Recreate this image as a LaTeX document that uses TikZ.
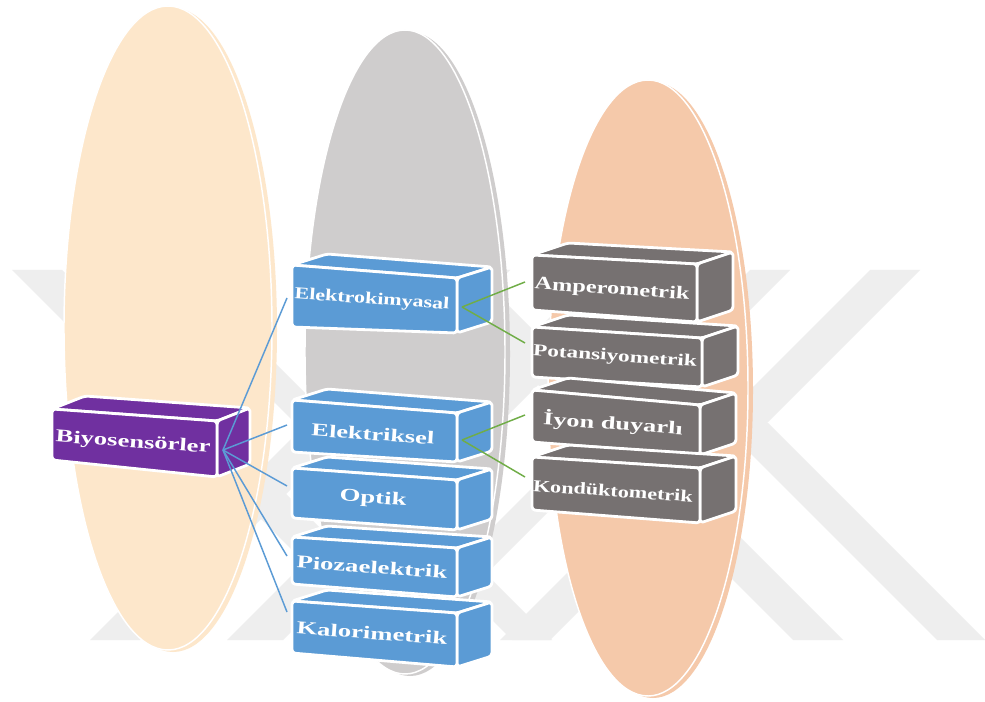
\documentclass[tikz,border=0pt]{standalone}
\usepackage{fontspec}
\setmainfont{Liberation Serif}
\usetikzlibrary{calc}
\definecolor{ellA}{HTML}{FDE7CB}
\definecolor{ellB}{HTML}{CFCDCD}
\definecolor{ellC}{HTML}{F5C9AA}
\definecolor{wmark}{HTML}{EEEEEE}
\definecolor{purp}{HTML}{7030A0}
\definecolor{blu}{HTML}{5B9BD5}
\definecolor{gry}{HTML}{767171}
\definecolor{grn}{HTML}{70AD47}
\newdimen\pxu \pxu=0.75pt
\tikzset{
  face/.style={draw=white, line width=2.1pt, rounded corners=2.5pt, line join=round},
  lbl/.style={text=white, inner sep=0pt, rotate=-4},
  bluelink/.style={draw=blu, line width=1.1pt},
  greenlink/.style={draw=grn, line width=1.1pt},
  band/.style={fill=wmark}
}
\newcommand\cuboid[7]{%
  \coordinate (#1-tl) at #2; \coordinate (#1-tr) at #3;
  \coordinate (#1-br) at #4; \coordinate (#1-bl) at #5;
  \coordinate (#1-tlb) at ($(#1-tl)+#6$);
  \coordinate (#1-trb) at ($(#1-tr)+#6$);
  \coordinate (#1-brb) at ($(#1-br)+#6$);
  \filldraw[face,fill=#7] (#1-tl) -- (#1-tlb) -- (#1-trb) -- (#1-tr) -- cycle;
  \filldraw[face,fill=#7] (#1-tr) -- (#1-trb) -- (#1-brb) -- (#1-br) -- cycle;
  \filldraw[face,fill=#7] (#1-tl) -- (#1-tr) -- (#1-br) -- (#1-bl) -- cycle;
}
\newcommand\boxtext[3]{\resizebox{#1\pxu}{\height}{\fontsize{#2}{#2}\selectfont\bfseries #3}}
\begin{document}
\begin{tikzpicture}[x=0.75pt,y=-0.75pt]
\useasboundingbox (0,0) rectangle (985,702);
\fill[white] (0,0) rectangle (985,702);
% watermark
\begin{scope}
\clip (0,0) rectangle (985,702);
\fill[band] (12,270) -- (62,270) -- (432,640) -- (382,640) -- cycle;
\fill[band] (870,270) -- (920,270) -- (550,640) -- (500,640) -- cycle;
\fill[band] (720,423) -- (768,423) -- (985,640) -- (937,640) -- cycle;
\fill[band] (460,270) -- (510,270) -- (140,640) -- (90,640) -- cycle;
\fill[band] (423,270) -- (473,270) -- (843,640) -- (793,640) -- cycle;
\fill[band] (750,270) -- (790,270) -- (420,640) -- (380,640) -- cycle;
\fill[band] (142,270) -- (182,270) -- (552,640) -- (512,640) -- cycle;
\fill[band] (597,270) -- (653,270) -- (283,640) -- (227,640) -- cycle;
\end{scope}
% ellipses
\fill[ellA] (173,330) ellipse [x radius=104, y radius=322];
\filldraw[fill=ellA, draw=white, line width=1.1pt] (168,328) ellipse [x radius=104, y radius=322];
\fill[ellB] (410,354) ellipse [x radius=100, y radius=322];
\filldraw[fill=ellB, draw=white, line width=1.1pt] (405,352) ellipse [x radius=100, y radius=322];
\fill[ellC] (653,390) ellipse [x radius=100, y radius=308];
\filldraw[fill=ellC, draw=white, line width=1.1pt] (648,388) ellipse [x radius=100, y radius=308];
% boxes
\cuboid{bio}{(52,409)}{(217,421)}{(217,477)}{(52,460)}{(33,-13)}{purp}
\cuboid{ek}{(292,265)}{(457,278)}{(457,333)}{(292,327)}{(35,-11)}{blu}
\cuboid{el}{(292,400)}{(457,413)}{(457,462)}{(292,452)}{(35,-11)}{blu}
\cuboid{op}{(292,468)}{(457,480)}{(457,530)}{(292,518)}{(35,-11)}{blu}
\cuboid{pi}{(292,537)}{(457,548)}{(457,597)}{(292,584)}{(35,-11)}{blu}
\cuboid{ka}{(292,601)}{(457,613)}{(457,667)}{(292,653)}{(35,-11)}{blu}
\cuboid{am}{(532,255)}{(697,264)}{(697,322)}{(532,310)}{(36,-12)}{gry}
\cuboid{po}{(532,327)}{(702,338)}{(702,387)}{(532,377)}{(36,-12)}{gry}
\cuboid{iy}{(532,390)}{(700,405)}{(700,455)}{(532,442)}{(36,-12)}{gry}
\cuboid{ko}{(532,457)}{(700,468)}{(700,523)}{(532,510)}{(36,-12)}{gry}
% labels
\node[lbl] (tbio) at (133,443) {\boxtext{155}{13.5}{Biyosensörler}};
\node[lbl] (tek) at (372,300) {\boxtext{155}{12.5}{Elektrokimyasal}};
\node[lbl] (tel) at (373,434) {\boxtext{123}{13.5}{Elektriksel}};
\node[lbl] (top) at (373,499) {\boxtext{67}{13.5}{Optik}};
\node[lbl] (tpi) at (372,567) {\boxtext{151}{13.5}{Piozaelektrik}};
\node[lbl] (tka) at (372,633) {\boxtext{151}{13.5}{Kalorimetrik}};
\node[lbl] (tam) at (612,290) {\boxtext{155}{13.5}{Amperometrik}};
\node[lbl] (tpo) at (615,357) {\boxtext{164}{12.5}{Potansiyometrik}};
\node[lbl] (tiy) at (613,424) {\boxtext{140}{13.5}{İyon duyarlı}};
\node[lbl] (tko) at (613,491) {\boxtext{160}{12.5}{Kondüktometrik}};
% connector anchors
\coordinate (bio-e) at (223,450);
\coordinate (ek-w) at (287,298);
\coordinate (el-w) at (287,425);
\coordinate (op-w) at (287,486);
\coordinate (pi-w) at (287,556);
\coordinate (ka-w) at (287,612);
\coordinate (ek-e) at (462,307);
\coordinate (el-e) at (462,440);
\coordinate (am-w) at (525,282);
\coordinate (po-w) at (525,343);
\coordinate (iy-w) at (525,415);
\coordinate (ko-w) at (525,477);
\draw[bluelink] (bio-e) -- (ek-w);
\draw[bluelink] (bio-e) -- (el-w);
\draw[bluelink] (bio-e) -- (op-w);
\draw[bluelink] (bio-e) -- (pi-w);
\draw[bluelink] (bio-e) -- (ka-w);
\draw[greenlink] (ek-e) -- (am-w);
\draw[greenlink] (ek-e) -- (po-w);
\draw[greenlink] (el-e) -- (iy-w);
\draw[greenlink] (el-e) -- (ko-w);
\end{tikzpicture}
\end{document}
